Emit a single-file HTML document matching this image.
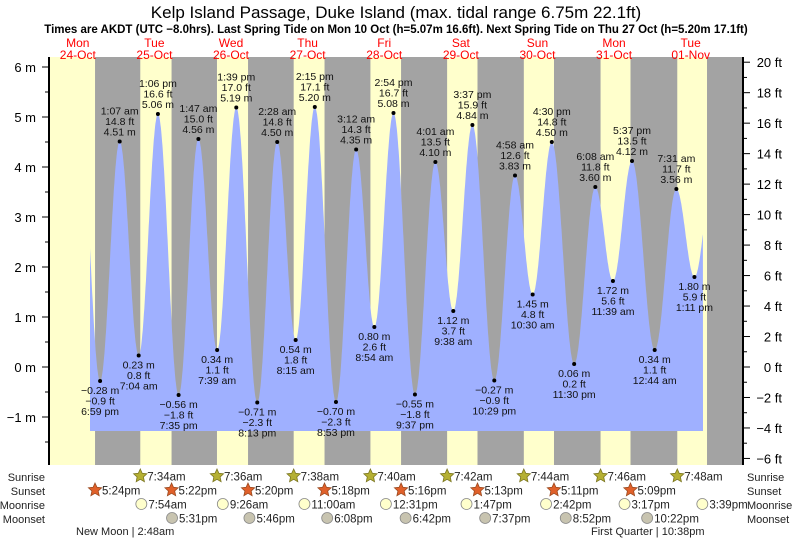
<!DOCTYPE html>
<html><head><meta charset="utf-8"><style>
body{margin:0;background:#fff}
svg{display:block;font-family:"Liberation Sans",sans-serif}
</style></head><body>
<svg id="c" width="793" height="539" viewBox="0 0 793 539" xmlns="http://www.w3.org/2000/svg">
<text x="396" y="18" font-size="17" text-anchor="middle">Kelp Island Passage, Duke Island (max. tidal range 6.75m 22.1ft)</text>
<text x="396" y="33" font-size="11.5" font-weight="bold" text-anchor="middle">Times are AKDT (UTC −8.0hrs). Last Spring Tide on Mon 10 Oct (h=5.07m 16.6ft). Next Spring Tide on Thu 27 Oct (h=5.20m 17.1ft)</text>
<g id="bands"></g><g id="water"></g><g id="axes"></g><g id="labels"></g><g id="bottom"></g>
</svg>
<script>
// hours since Oct 24 00:00, heights in metres
const tideHours=[18.98,25.12,31.07,37.1,43.58,49.78,55.65,61.65,68.22,74.47,80.25,86.25,92.88,99.2,104.9,110.9,117.62,124.02,129.63,135.62,142.48,148.97,154.5,160.5,167.5,174.13,179.65,185.62,192.73,199.52,205.18];
const tideHeights=[-0.28,4.51,0.23,5.06,-0.56,4.56,0.34,5.19,-0.71,4.50,0.54,5.20,-0.70,4.35,0.80,5.08,-0.55,4.10,1.12,4.84,-0.27,3.83,1.45,4.50,0.06,3.60,1.72,4.12,0.34,3.56,1.80];
const tideTimes=["6:59 pm","1:07 am","7:04 am","1:06 pm","7:35 pm","1:47 am","7:39 am","1:39 pm","8:13 pm","2:28 am","8:15 am","2:15 pm","8:53 pm","3:12 am","8:54 am","2:54 pm","9:37 pm","4:01 am","9:38 am","3:37 pm","10:29 pm","4:58 am","10:30 am","4:30 pm","11:30 pm","6:08 am","11:39 am","5:37 pm","12:44 am","7:31 am","1:11 pm"];
const dayNames=["Mon","Tue","Wed","Thu","Fri","Sat","Sun","Mon","Tue"];
const dayDates=["24-Oct","25-Oct","26-Oct","27-Oct","28-Oct","29-Oct","30-Oct","31-Oct","01-Nov"];
const sunriseHours=[31.57,55.6,79.63,103.67,127.7,151.73,175.77,199.8];
const sunriseLabels=["7:34am","7:36am","7:38am","7:40am","7:42am","7:44am","7:46am","7:48am"];
const sunsetHours=[17.4,41.37,65.33,89.3,113.27,137.22,161.18,185.15,209.12];
const sunsetLabels=["5:24pm","5:22pm","5:20pm","5:18pm","5:16pm","5:13pm","5:11pm","5:09pm",""];
const moonriseHours=[31.9,57.43,83,108.52,133.78,158.7,183.28,207.65];
const moonriseLabels=["7:54am","9:26am","11:00am","12:31pm","1:47pm","2:42pm","3:17pm","3:39pm"];
const moonsetHours=[41.52,65.77,90.13,114.7,139.62,164.87,190.37];
const moonsetLabels=["5:31pm","5:46pm","6:08pm","6:42pm","7:37pm","8:52pm","10:22pm"];
const mTicks=[-1,0,1,2,3,4,5,6];
const ftTicks=[-6,-4,-2,0,2,4,6,8,10,12,14,16,18,20];

const NS="http://www.w3.org/2000/svg";
const PX0=49,PX1=743,PY0=57,PY1=465;
const xh=h=>39.5+h*3.192;
const ym=m=>367-m*50;
function el(tag,attrs,parent,txt){const e=document.createElementNS(NS,tag);for(const k in attrs)e.setAttribute(k,attrs[k]);if(txt!==undefined)e.textContent=txt;parent.appendChild(e);return e;}
const bands=document.getElementById('bands'),water=document.getElementById('water'),axes=document.getElementById('axes'),labels=document.getElementById('labels'),bottom=document.getElementById('bottom');

const bg=el('rect',{x:PX0,y:PY0,width:PX1-PX0,height:PY1-PY0,fill:'#ffffcc'},bands);


for(let i=0;i<sunsetHours.length;i++){
  const x0=Math.max(PX0,xh(sunsetHours[i]));
  const x1=i<sunriseHours.length?xh(sunriseHours[i]):PX1;
  const r=el('rect',{x:x0,y:PY0,width:x1-x0,height:PY1-PY0,fill:'#a3a3a3'},bands);
  
  
}
for(let i=0;i<dayNames.length;i++){
  const cx=xh(i*24+12);
  const t1=el('text',{x:cx,y:47,'font-size':12,fill:'#f00','text-anchor':'middle'},labels,dayNames[i]);
  
  
  const t2=el('text',{x:cx,y:59,'font-size':12,fill:'#f00','text-anchor':'middle'},labels,dayDates[i]);
  
  
}
const H=[12.85].concat(tideHours,[211.5]);
const V=[4.78].concat(tideHeights,[4.1]);
function level(t){
  for(let i=0;i<H.length-1;i++){
    if(t>=H[i]&&t<=H[i+1]){const f=(t-H[i])/(H[i+1]-H[i]);return V[i]+(V[i+1]-V[i])*(1-Math.cos(Math.PI*f))/2;}
  }
  return V[V.length-1];
}
const t0=(90-39.5)/3.192,t1=(703-39.5)/3.192;
const base=431;
let d=`M${xh(t0).toFixed(1)},${base}`;
for(let t=t0;t<=t1+0.001;t+=0.1)d+=` L${xh(t).toFixed(1)},${ym(level(t)).toFixed(1)}`;
d+=` L${xh(t1).toFixed(1)},${base} Z`;
const wp=el('path',{d:d,fill:'#9fb0ff'},water);


for(let i=0;i<tideHours.length;i++){
  const x=xh(tideHours[i]),y=ym(tideHeights[i]);
  const isHigh=(i%2===1);
  const dot=el('circle',{cx:x,cy:y,r:2,fill:'#000'},labels);
  
  
  const m=tideHeights[i].toFixed(2).replace('-','−')+' m';
  const ft=(tideHeights[i]/0.3048).toFixed(1).replace('-','−')+' ft';
  const lines=isHigh?[tideTimes[i],ft,m]:[m,ft,tideTimes[i]];
  const g=el('text',{'font-size':10.5,'text-anchor':'middle',fill:'#111'},labels);
  
  
  lines.forEach((s,j)=>{const yy=isHigh?y-27+j*10.5:y+13+j*10.5;el('tspan',{x:x,y:yy},g,s);});
}
const la=el('line',{x1:PX0,y1:PY0,x2:PX0,y2:PY1,stroke:'#000','stroke-width':2},axes);


const ra=el('line',{x1:PX1,y1:PY0,x2:PX1,y2:PY1,stroke:'#000','stroke-width':2},axes);


for(let v=-1.5;v<=6.01;v+=0.5){
  const major=Math.abs(v-Math.round(v))<0.01;
  el('line',{x1:PX0-(major?7:4),y1:ym(v),x2:PX0,y2:ym(v),stroke:'#000'},axes);
}
mTicks.forEach(v=>{
  const t=el('text',{x:36,y:ym(v)+5,'font-size':13,'text-anchor':'end'},axes,(v<0?'−':'')+Math.abs(v)+' m');
  
  
});
for(let f=-6;f<=20;f++){
  const y=ym(f*0.3048);
  el('line',{x1:PX1,y1:y,x2:PX1+(f%2===0?7:4),y2:y,stroke:'#000'},axes);
}
ftTicks.forEach(f=>{
  const t=el('text',{x:782,y:ym(f*0.3048)+5,'font-size':13,'text-anchor':'end'},axes,(f<0?'−':'')+Math.abs(f)+' ft');
  
  
});
const rows=[["Sunrise",477],["Sunset",491],["Moonrise",505],["Moonset",519]];
rows.forEach(r=>{
  const a=el('text',{x:45,y:r[1]+4,'font-size':11,'text-anchor':'end',fill:'#222'},bottom,r[0]);
  
  
  const b=el('text',{x:747,y:r[1]+4,'font-size':11,fill:'#222'},bottom,r[0]);
  
  
});
function star(cx,cy,fill,stroke){
  let p='';for(let k=0;k<10;k++){const r=k%2?3.3:7;const a=-Math.PI/2+k*Math.PI/5;p+=(cx+r*Math.cos(a)).toFixed(1)+','+(cy+r*Math.sin(a)).toFixed(1)+' ';}
  return el('polygon',{points:p,fill:fill,stroke:stroke,'stroke-width':0.8},bottom);
}
function ev(hours,labs,cy,kind){
  hours.forEach((h,i)=>{
    const x=xh(h);let ic;
    if(kind==='sunrise')ic=star(x,cy,'#b5b033','#7a7520');
    else if(kind==='sunset')ic=star(x,cy,'#e0602a','#9a4a20');
    else ic=el('circle',{cx:x,cy:cy,r:5.5,fill:kind==='moonrise'?'#ffffcc':'#c8c4b0',stroke:'#888','stroke-width':0.8},bottom);
    
    
    if(labs[i]){
      const t=el('text',{x:x+7,y:cy+4.5,'font-size':11.5,fill:'#222'},bottom,labs[i]);
      
      
    }
  });
}
ev(sunriseHours,sunriseLabels,476,'sunrise');
ev(sunsetHours.slice(0,8),sunsetLabels,490,'sunset');
ev(moonriseHours,moonriseLabels,504,'moonrise');
ev(moonsetHours,moonsetLabels,518,'moonset');
const nm=el('text',{x:76,y:535,'font-size':11,fill:'#222'},bottom,'New Moon | 2:48am');


const fq=el('text',{x:591,y:535,'font-size':11,fill:'#222'},bottom,'First Quarter | 10:38pm');


</script>
</body></html>
